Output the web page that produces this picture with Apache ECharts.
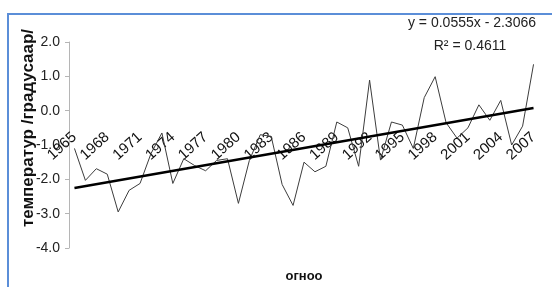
<!DOCTYPE html>
<html>
<head>
<meta charset="utf-8">
<script src="https://cdn.jsdelivr.net/npm/echarts@6/dist/echarts.min.js"></script>
<style>
  html, body { margin: 0; padding: 0; background: #fff; }
  #chart { width: 552px; height: 287px; }
</style>
</head>
<body>
<div id="chart"></div>
<script>
// years on the category axis
var years = [];
for (var y = 1965; y <= 2007; y++) years.push(String(y));

// temperature values
var temps = [
  -1.10, -2.03, -1.69, -1.85, -2.95, -2.32, -2.12, -1.25, -0.65, -2.12,
  -1.40, -1.60, -1.75, -1.45, -1.40, -2.70, -1.45, -0.70, -0.75, -2.15,
  -2.76, -1.50, -1.78, -1.62, -0.33, -0.50, -1.62, 0.89, -1.44, -0.33,
  -0.42, -1.10, 0.38, 0.99, -0.35, -0.80, -0.50, 0.17, -0.28, 0.30,
  -1.00, -0.45, 1.35
];

// trend line end points (as drawn)
var trendYears = ['1965', '2007'];
var trendValues = [-2.25, 0.08];

// value axis tick labels
var yTicks = ['-4.0', '-3.0', '-2.0', '-1.0', '0.0', '1.0', '2.0'];

var equationText = 'y = 0.0555x - 2.3066';
var r2Text = 'R² = 0.4611';

var font = 'Liberation Sans';

var chart = echarts.init(document.getElementById('chart'));

var option = {
    animation: false,
    grid: { left: 69, right: 13, top: 42, bottom: 39 },
    xAxis: {
        type: 'category',
        data: years,
        boundaryGap: true,
        axisLine: { show: false },
        axisTick: { show: false },
        axisLabel: {
            interval: 2,
            rotate: 42,
            margin: -113,
            color: '#111',
            fontSize: 15,
            fontFamily: font
        },
        splitLine: { show: false }
    },
    yAxis: [
        {
            type: 'value',
            min: -4,
            max: 2,
            interval: 1,
            axisLine: { show: true, lineStyle: { color: '#b5b5b5', width: 1 } },
            axisTick: { show: true, length: 4, lineStyle: { color: '#b5b5b5' } },
            axisLabel: { show: false },
            splitLine: { show: false }
        },
        {
            // labels for the value axis, on a category scale so every tick is kept
            type: 'category',
            position: 'left',
            data: yTicks,
            boundaryGap: false,
            axisLine: { show: false },
            axisTick: { show: false },
            axisLabel: {
                interval: 0,
                margin: 9,
                color: '#222',
                fontSize: 14,
                fontFamily: font
            },
            splitLine: { show: false }
        }
    ],
    series: [
        {
            type: 'line',
            data: temps,
            symbol: 'none',
            lineStyle: { color: '#3c3c3c', width: 1 },
            z: 2
        },
        {
            type: 'line',
            data: [[trendYears[0], trendValues[0]], [trendYears[1], trendValues[1]]],
            symbol: 'none',
            lineStyle: { color: '#000', width: 2.5 },
            z: 3
        }
    ],
    graphic: [
        {
            type: 'rect',
            shape: { x: 8, y: 14, width: 600, height: 400 },
            style: { fill: 'none', stroke: '#5b8ed8', lineWidth: 2 },
            silent: true
        },
        {
            type: 'text',
            x: 28, y: 128,
            rotation: Math.PI / 2,
            style: {
                text: 'температур /градусаар/',
                font: 'bold 17px "' + font + '"',
                fill: '#111',
                align: 'center',
                verticalAlign: 'middle'
            }
        },
        {
            type: 'text',
            x: 304, y: 276,
            style: {
                text: 'огноо',
                font: 'bold 13px "' + font + '"',
                fill: '#111',
                align: 'center',
                verticalAlign: 'middle'
            }
        },
        {
            type: 'text',
            x: 472, y: 23,
            style: {
                text: equationText,
                font: '14px "' + font + '"',
                fill: '#222',
                align: 'center',
                verticalAlign: 'middle'
            }
        },
        {
            type: 'text',
            x: 470, y: 46,
            style: {
                text: r2Text,
                font: '14px "' + font + '"',
                fill: '#222',
                align: 'center',
                verticalAlign: 'middle'
            }
        }
    ]
};

chart.setOption(option);
</script>
</body>
</html>
